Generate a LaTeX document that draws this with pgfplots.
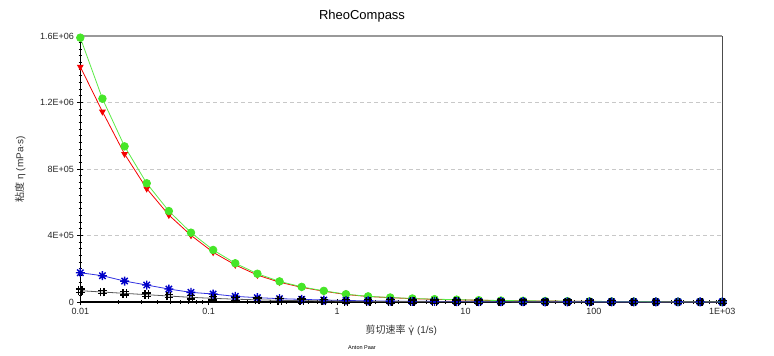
\documentclass[border=0pt]{standalone}
\usepackage{pgfplots}
\pgfplotsset{compat=1.18}
\usepackage{fontspec}
\setmainfont{Liberation Sans}
\newfontfamily\cjk{Noto Sans CJK SC}
\newfontfamily\dejavu{DejaVu Sans}
\definecolor{cgreen}{RGB}{70,230,40}
\definecolor{cgreenline}{RGB}{90,235,70}
\definecolor{cred}{RGB}{245,0,0}
\definecolor{cblue}{RGB}{0,0,200}
\definecolor{cblueline}{RGB}{50,50,225}
\definecolor{cgrid}{RGB}{200,200,200}
\pgfdeclareplotmark{hash}{%
  \pgfpathmoveto{\pgfqpoint{-0.4\pgfplotmarksize}{-\pgfplotmarksize}}%
  \pgfpathlineto{\pgfqpoint{-0.4\pgfplotmarksize}{\pgfplotmarksize}}%
  \pgfpathmoveto{\pgfqpoint{0.4\pgfplotmarksize}{-\pgfplotmarksize}}%
  \pgfpathlineto{\pgfqpoint{0.4\pgfplotmarksize}{\pgfplotmarksize}}%
  \pgfpathmoveto{\pgfqpoint{-\pgfplotmarksize}{-0.4\pgfplotmarksize}}%
  \pgfpathlineto{\pgfqpoint{\pgfplotmarksize}{-0.4\pgfplotmarksize}}%
  \pgfpathmoveto{\pgfqpoint{-\pgfplotmarksize}{0.4\pgfplotmarksize}}%
  \pgfpathlineto{\pgfqpoint{\pgfplotmarksize}{0.4\pgfplotmarksize}}%
  \pgfusepathqstroke}
\pgfdeclareplotmark{star8}{%
  \pgfpathmoveto{\pgfqpoint{-\pgfplotmarksize}{0pt}}%
  \pgfpathlineto{\pgfqpoint{\pgfplotmarksize}{0pt}}%
  \pgfpathmoveto{\pgfqpoint{0pt}{-\pgfplotmarksize}}%
  \pgfpathlineto{\pgfqpoint{0pt}{\pgfplotmarksize}}%
  \pgfpathmoveto{\pgfqpoint{-0.707\pgfplotmarksize}{-0.707\pgfplotmarksize}}%
  \pgfpathlineto{\pgfqpoint{0.707\pgfplotmarksize}{0.707\pgfplotmarksize}}%
  \pgfpathmoveto{\pgfqpoint{-0.707\pgfplotmarksize}{0.707\pgfplotmarksize}}%
  \pgfpathlineto{\pgfqpoint{0.707\pgfplotmarksize}{-0.707\pgfplotmarksize}}%
  \pgfusepathqstroke}
\pgfplotstableread{
x        green    red      blue     black
0.01     1590000  1415000  176000   68000
0.014874 1223000  1145000  158000   60000
0.022122 936000   890000   126000   52000
0.032903 714000   682000   102000   44000
0.048939 547000   523000   78000    36000
0.072790 417000   401000   58000    28000
0.10826  313000   299000   48000    22000
0.16103  233000   223000   34000    17000
0.23950  170000   162000   26000    13000
0.35622  124000   119000   20000    10000
0.52983  91000    88000    16000    8000
0.78805  67000    65000    12000    6000
1.1721   47000    45000    9000     4800
1.7433   34000    33000    7000     3800
2.5929   27000    26000    5500     3000
3.8566   21000    20000    4500     2400
5.7362   17000    16000    3600     1900
8.5317   14000    13000    3000     1500
12.690   11000    10500    2400     1200
18.874   9000     8500     2000     1000
28.072   7500     7000     1600     800
41.753   6000     5700     1300     650
62.102   5000     4700     1100     520
92.367   4000     3800     900      420
137.38   3300     3100     750      340
204.34   2700     2500     620      280
303.92   2200     2100     510      230
452.04   1800     1700     420      190
672.34   1500     1400     350      150
1000     1200     1100     290      120
}\datatable
\begin{document}
\begin{tikzpicture}
\path[use as bounding box] (0,0) rectangle (774bp,356bp);
\begin{axis}[
  at={(80.3bp,54bp)}, anchor=south west,
  scale only axis, width=642bp, height=266bp,
  xmode=log, xmin=0.01, xmax=1000,
  ymin=0, ymax=1600000,
  axis x line*=bottom, axis y line*=left,
  axis line style={black, line width=1.1bp},
  xtick={0.01,0.1,1,10,100,1000},
  xticklabels={0.01,0.1,1,10,100,1E+03},
  ytick={0,400000,800000,1200000,1600000},
  yticklabels={0,4E+05,8E+05,1.2E+06,1.6E+06},
  minor y tick num=9,
  scaled y ticks=false,
  tick align=center,
  major tick length=6bp, minor tick length=3.5bp,
  tick style={black, line width=0.9bp},
  ticklabel style={font=\fontsize{9bp}{10bp}\selectfont, text=black!85},
  ymajorgrids, grid style={cgrid, dashed, dash pattern=on 4bp off 3bp, line width=0.8bp},
  xlabel={{\cjk 剪切速率} {\dejavu γ̇} (1/s)},
  ylabel={{\cjk 粘度} η (mPa·s)},
  every axis x label/.style={at={(axis description cs:0.5,-0.105)}, anchor=center},
  every axis y label/.style={at={(axis description cs:-0.0935,0.5)}, rotate=90, anchor=center},
  label style={font=\fontsize{10bp}{12bp}\selectfont, text=black!80},
  clip=false,
]
\draw[gray!80, line width=1.5bp] (rel axis cs:0,1) -- (rel axis cs:1,1);
\draw[black!70, line width=1.5bp] (rel axis cs:1,0) -- (rel axis cs:1,1);
\addplot[cred, line width=0.8bp, mark=triangle*, mark size=3.2bp, mark options={rotate=180, fill=cred, draw=cred}] table[x=x, y=red] {\datatable};
\addplot[cgreenline, line width=0.8bp, mark=*, mark size=3.8bp, mark options={fill=cgreen, draw=cgreen}] table[x=x, y=green] {\datatable};
\addplot[cblueline, line width=0.8bp, mark=star8, mark size=4.5bp, mark options={draw=cblue, line width=1.4bp}] table[x=x, y=blue] {\datatable};
\addplot[black!65, line width=0.8bp, mark=hash, mark size=4.3bp, mark options={draw=black, line width=1.4bp}] table[x=x, y=black] {\datatable};
\end{axis}
\node[font=\fontsize{13bp}{15bp}\selectfont] at (362bp,340bp) {RheoCompass};
\node[font=\fontsize{5.5bp}{6bp}\selectfont] at (362bp,8.5bp) {Anton Paar};
\end{tikzpicture}
\end{document}
